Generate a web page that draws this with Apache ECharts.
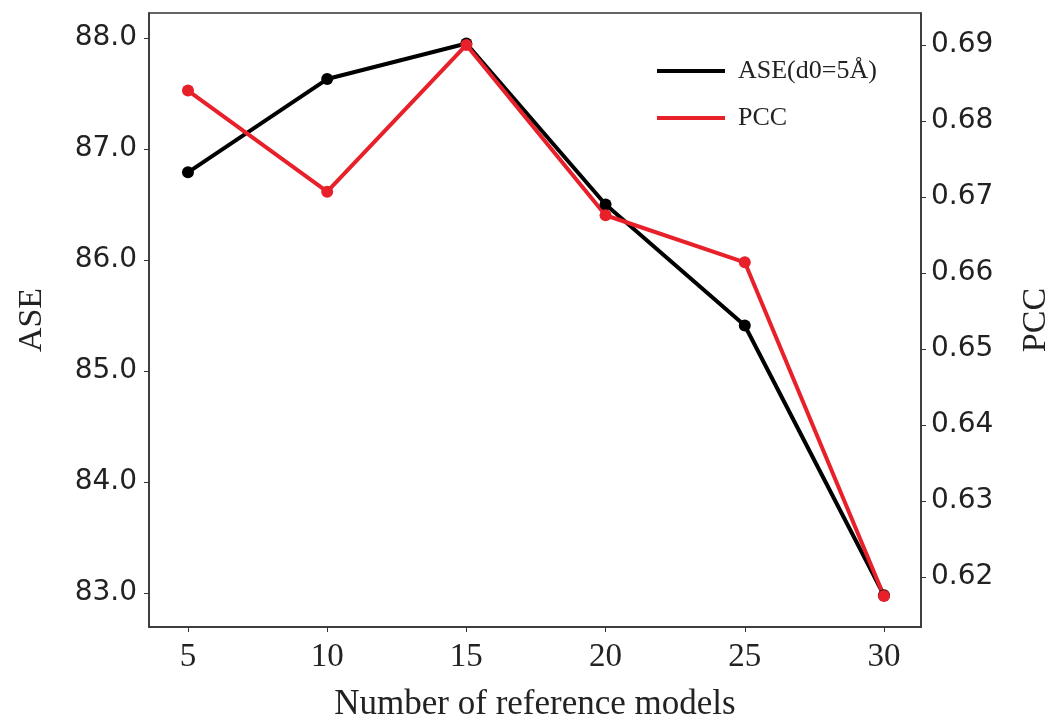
<!DOCTYPE html>
<html><head><meta charset="utf-8">
<script src="https://cdn.jsdelivr.net/npm/echarts@6/dist/echarts.min.js"></script>
<style>html,body{margin:0;padding:0;background:#fff}#c{width:1049px;height:720px}</style>
</head><body><div id="c"></div>
<script>
const xValues = [5, 10, 15, 20, 25, 30];
const aseValues = [86.79, 87.63, 87.95, 86.50, 85.41, 82.98];
const pccValues = [0.6840, 0.6707, 0.6900, 0.6676, 0.6614, 0.6175];
const xTicks = [5, 10, 15, 20, 25, 30];
const aseTicks = [83, 84, 85, 86, 87, 88];
const pccTicks = [0.62, 0.63, 0.64, 0.65, 0.66, 0.67, 0.68, 0.69];

const chart = echarts.init(document.getElementById('c'));
const serif = 'Liberation Serif';
const tickFont = 'DejaVu Sans';
chart.setOption({
  animation: false,
  backgroundColor: '#fff',
  grid: { left: 149, right: 128, top: 13, bottom: 93, outerBoundsMode: 'none', containLabel: false,
    show: true, borderColor: '#333', borderWidth: 1.5, backgroundColor: 'transparent' },
  legend: {
    orient: 'vertical', left: 652, top: 51, itemWidth: 68, itemHeight: 4, itemGap: 17,
    icon: 'rect',
    textStyle: { fontFamily: serif, fontSize: 26, color: '#222', lineHeight: 30, padding: [0, 0, 0, 8] },
    data: ['ASE(d0=5Å)', 'PCC']
  },
  xAxis: {
    type: 'value', min: 3.6, max: 31.33,
    name: 'Number of reference models', nameLocation: 'middle', nameGap: 60,
    nameTextStyle: { fontFamily: serif, fontSize: 35, color: '#222' },
    axisLine: { show: true, lineStyle: { color: '#333', width: 1.5 } },
    axisTick: { show: true, length: 5, customValues: xTicks, lineStyle: { color: '#333' } },
    axisLabel: { customValues: xTicks, fontFamily: serif, fontSize: 33, color: '#222', margin: 14 },
    splitLine: { show: false }
  },
  yAxis: [
    {
      type: 'value', min: 82.694, max: 88.225, position: 'left',
      name: 'ASE', nameLocation: 'middle', nameGap: 100, nameRotate: 90,
      nameTextStyle: { fontFamily: serif, fontSize: 34, color: '#222' },
      axisLine: { show: true, lineStyle: { color: '#333', width: 1.5 } },
      axisTick: { show: true, length: 5, customValues: aseTicks, lineStyle: { color: '#333' } },
      axisLabel: { customValues: aseTicks, fontFamily: tickFont, fontSize: 28, color: '#222', margin: 12,
        formatter: v => v.toFixed(1) },
      splitLine: { show: false }
    },
    {
      type: 'value', min: 0.61342, max: 0.69421, position: 'right',
      name: 'PCC', nameLocation: 'middle', nameGap: 98, nameRotate: 90,
      nameTextStyle: { fontFamily: serif, fontSize: 34, color: '#222' },
      axisLine: { show: true, lineStyle: { color: '#333', width: 1.5 } },
      axisTick: { show: true, length: 5, customValues: pccTicks, lineStyle: { color: '#333' } },
      axisLabel: { customValues: pccTicks, fontFamily: tickFont, fontSize: 28, color: '#222', margin: 10,
        formatter: v => v.toFixed(2) },
      splitLine: { show: false }
    }
  ],
  series: [
    {
      name: 'ASE(d0=5Å)', type: 'line', yAxisIndex: 0,
      data: xValues.map((x, i) => [x, aseValues[i]]),
      symbol: 'circle', symbolSize: 12,
      lineStyle: { color: '#000', width: 4 },
      itemStyle: { color: '#000' }
    },
    {
      name: 'PCC', type: 'line', yAxisIndex: 1,
      data: xValues.map((x, i) => [x, pccValues[i]]),
      symbol: 'circle', symbolSize: 12,
      lineStyle: { color: '#e8202a', width: 4 },
      itemStyle: { color: '#e8202a' }
    }
  ]
});
</script></body></html>
